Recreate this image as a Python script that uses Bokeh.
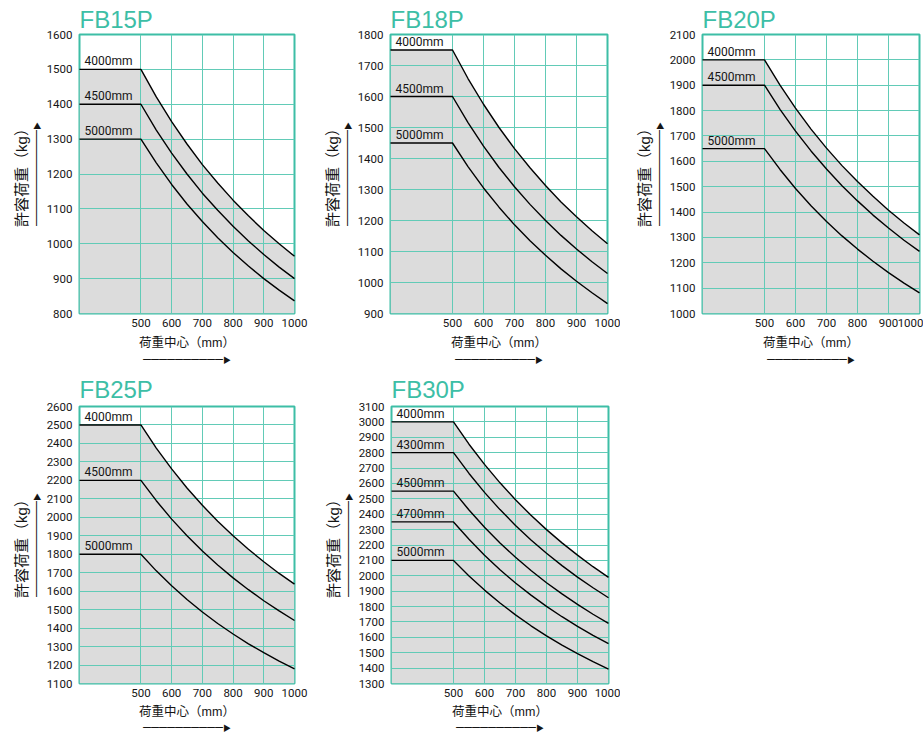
from bokeh.plotting import figure
from bokeh.layouts import column, row
from bokeh.models import Range1d, FixedTicker, Label, Title
from bokeh.embed import file_html
from bokeh.resources import INLINE

TEAL = "#3dbea6"
GRID = "#62cbb7"
FILL = "#dcdcdc"
INK = "#151515"

x_min = 300
x_max = 1000
load_centers = [500, 550, 600, 650, 700, 750, 800, 850, 900, 950, 1000]
x_ticks = [500, 600, 700, 800, 900, 1000]

fb15p_ylim = (800, 1600)
fb15p_4000 = [1500, 1421, 1350, 1286, 1227, 1174, 1125, 1080, 1038, 1000, 964]
fb15p_4500 = [1400, 1326, 1260, 1200, 1145, 1096, 1050, 1008, 969, 933, 900]
fb15p_5000 = [1300, 1232, 1170, 1114, 1064, 1017, 975, 936, 900, 867, 836]

fb18p_ylim = (900, 1800)
fb18p_4000 = [1750, 1658, 1575, 1500, 1432, 1370, 1313, 1260, 1212, 1167, 1125]
fb18p_4500 = [1600, 1516, 1440, 1371, 1309, 1252, 1200, 1152, 1108, 1067, 1029]
fb18p_5000 = [1450, 1374, 1305, 1243, 1186, 1135, 1088, 1044, 1004, 967, 932]

fb20p_ylim = (1000, 2100)
fb20p_4000 = [2000, 1900, 1810, 1727, 1652, 1583, 1520, 1462, 1407, 1357, 1310]
fb20p_4500 = [1900, 1805, 1719, 1641, 1570, 1504, 1444, 1388, 1337, 1289, 1245]
fb20p_5000 = [1650, 1568, 1493, 1425, 1363, 1306, 1254, 1206, 1161, 1120, 1081]

fb25p_ylim = (1100, 2600)
fb25p_4000 = [2500, 2375, 2262, 2159, 2065, 1979, 1900, 1827, 1759, 1696, 1638]
fb25p_4500 = [2200, 2090, 1990, 1900, 1817, 1742, 1672, 1608, 1548, 1493, 1441]
fb25p_5000 = [1800, 1710, 1629, 1555, 1487, 1425, 1368, 1315, 1267, 1221, 1179]

fb30p_ylim = (1300, 3100)
fb30p_4000 = [3000, 2855, 2724, 2604, 2494, 2393, 2300, 2214, 2134, 2059, 1990]
fb30p_4300 = [2800, 2665, 2542, 2430, 2327, 2233, 2146, 2066, 1991, 1922, 1857]
fb30p_4500 = [2550, 2427, 2315, 2213, 2120, 2034, 1955, 1882, 1814, 1750, 1691]
fb30p_4700 = [2350, 2237, 2133, 2039, 1953, 1874, 1801, 1734, 1671, 1613, 1559]
fb30p_5000 = [2100, 1999, 1907, 1823, 1746, 1675, 1610, 1549, 1494, 1442, 1393]

x_label = "荷重中心（mm）"
y_label = "許容荷重（kg）"
x_arrow = "━" * 10 + "▶"
y_arrow = "━" * 12 + "▶"

MIXED = "Liberation Sans, Noto Sans CJK JP"
NUM = "Roboto"


def side_title(text, size, standoff):
    return Title(text=text, text_font=MIXED, text_font_size=size,
                 text_font_style="normal", text_color=INK, align="center",
                 standoff=standoff)


def make_chart(title, ylim, series, width, height, bl, br, bt, bb,
               title_standoff, label_gap, arrow_gap):
    ymin, ymax = ylim
    fw = width - bl - br
    fh = height - bt - bb
    dx = (x_max - x_min) / fw
    dy = (ymax - ymin) / fh

    p = figure(width=width, height=height, x_range=Range1d(x_min, x_max),
               y_range=Range1d(ymin, ymax), output_backend="svg",
               toolbar_location=None, min_border_left=bl, min_border_right=br,
               min_border_top=bt, min_border_bottom=bb)
    p.background_fill_color = "white"
    p.border_fill_color = "white"
    p.outline_line_color = TEAL
    p.outline_line_width = 2

    p.title.text = title
    p.title.text_font = "Liberation Sans"
    p.title.text_font_size = "24px"
    p.title.text_font_style = "normal"
    p.title.text_color = TEAL
    p.title.align = "left"
    p.title.offset = 0
    p.title.standoff = title_standoff

    for ax in (p.xaxis[0], p.yaxis[0]):
        ax.axis_line_color = None
        ax.major_tick_line_color = None
        ax.minor_tick_line_color = None
        ax.major_tick_out = 0
        ax.major_tick_in = 0
        ax.major_label_text_font = NUM
        ax.major_label_text_font_size = "11.5px"
        ax.major_label_text_color = INK
    p.xaxis.ticker = FixedTicker(ticks=x_ticks)
    p.yaxis.ticker = FixedTicker(ticks=list(range(ymin, ymax + 1, 100)))
    p.yaxis.major_label_standoff = 7
    p.xaxis.major_label_standoff = 5

    p.below = [p.xaxis[0], side_title(x_label, "12.5px", label_gap),
               side_title(x_arrow, "8px", arrow_gap)]
    p.left = [p.yaxis[0], side_title(y_arrow, "8px", 3),
              side_title(y_label, "15px", 0)]

    p.xgrid.grid_line_color = GRID
    p.ygrid.grid_line_color = GRID
    p.xgrid.level = "glyph"
    p.ygrid.level = "glyph"

    top = series[0][1]
    xs = [x_min] + load_centers
    p.varea(x=xs, y1=[ymin] * len(xs), y2=[top[0]] + top,
            fill_color=FILL, level="underlay")

    for name, vals in series:
        p.line(x=xs, y=[vals[0]] + vals, line_color="black", line_width=1.4,
               level="annotation")
        p.add_layout(Label(x=x_min + 5 * dx, y=vals[0] + 1 * dy, text=name,
                           text_font=NUM, text_font_size="12px",
                           text_color=INK, text_baseline="bottom",
                           text_align="left"))
    return p


p1 = make_chart("FB15P", fb15p_ylim,
                [("4000mm", fb15p_4000), ("4500mm", fb15p_4500), ("5000mm", fb15p_5000)],
                310, 370, 79, 16, 34, 57, 4, 8, 0)
p2 = make_chart("FB18P", fb18p_ylim,
                [("4000mm", fb18p_4000), ("4500mm", fb18p_4500), ("5000mm", fb18p_5000)],
                310, 370, 80, 13, 34, 57, 4, 8, 0)
p3 = make_chart("FB20P", fb20p_ylim,
                [("4000mm", fb20p_4000), ("4500mm", fb20p_4500), ("5000mm", fb20p_5000)],
                303, 370, 82, 4, 34, 57, 4, 8, 0)
p4 = make_chart("FB25P", fb25p_ylim,
                [("4000mm", fb25p_4000), ("4500mm", fb25p_4500), ("5000mm", fb25p_5000)],
                310, 362, 79, 16, 36, 48, 7, 6, 0)
p5 = make_chart("FB30P", fb30p_ylim,
                [("4000mm", fb30p_4000), ("4300mm", fb30p_4300), ("4500mm", fb30p_4500),
                 ("4700mm", fb30p_4700), ("5000mm", fb30p_5000)],
                310, 362, 81, 12, 36, 48, 7, 6, 0)

layout = column(row(p1, p2, p3, spacing=0), row(p4, p5, spacing=0), spacing=0)

open("out.html", "w").write(file_html(layout, INLINE))
